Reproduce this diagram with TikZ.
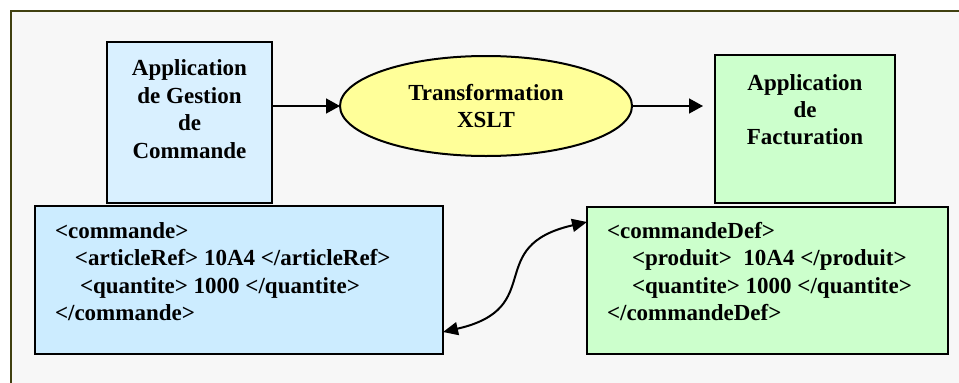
\documentclass[tikz,border=0pt]{standalone}
\usepackage{fontspec}
\setmainfont{Liberation Serif}
\usetikzlibrary{arrows.meta,shapes.geometric,calc}

\definecolor{framecol}{RGB}{64,64,16}
\definecolor{panelbg}{RGB}{247,247,247}
\definecolor{appblue}{RGB}{217,240,255}
\definecolor{xmlblue}{RGB}{204,236,255}
\definecolor{xsltyellow}{RGB}{255,255,153}
\definecolor{appgreen}{RGB}{204,255,204}

\tikzset{
  box/.style={draw=black, line width=2pt, rectangle, anchor=north west,
    inner sep=0pt, outer sep=0pt},
  label/.style={inner sep=0pt, outer sep=0pt,
    font=\fontsize{23}{27.3}\selectfont\bfseries},
  flow/.style={draw=black, line width=1.5pt,
    -{Triangle[length=14pt,width=15pt]}},
  link/.style={draw=black, line width=2pt,
    {Triangle[length=15pt,width=13pt]}-{Triangle[length=15pt,width=13pt]}}
}

\begin{document}
\begin{tikzpicture}[x=1pt,y=-1pt]
  \useasboundingbox (0,0) rectangle (959,383);
  \clip (0,0) rectangle (959,383);

  % outer panel
  \fill[white] (0,0) rectangle (959,383);
  \draw[framecol, line width=2.5pt, fill=panelbg] (11,11) rectangle (990,420);

  % application boxes
  \node[box, fill=appblue, minimum width=165pt, minimum height=161pt] (app1) at (107,42) {};
  \node[box, fill=appgreen, minimum width=180pt, minimum height=148pt] (fact) at (715,55) {};

  % XML documents
  \node[box, fill=xmlblue, minimum width=408pt, minimum height=148pt] (cmd) at (35,206) {};
  \node[box, fill=appgreen, minimum width=361pt, minimum height=147pt] (def) at (587,207) {};

  % transformation
  \node[ellipse, draw=black, line width=2pt, fill=xsltyellow,
        minimum width=292pt, minimum height=100pt, inner sep=0pt, outer sep=0pt,
        align=center, font=\fontsize{23}{27}\selectfont\bfseries]
        (xslt) at (486,106) {Transformation\\XSLT};

  % box captions
  \node[label, align=center, anchor=north, font=\fontsize{23}{27.6}\selectfont\bfseries]
    (app1txt) at (189.5,59.5) {Application\\de Gestion\\de\\Commande};
  \node[label, align=center, anchor=north, font=\fontsize{23}{27}\selectfont\bfseries]
    (facttxt) at (805,74.5) {Application\\de\\Facturation};

  \node[label, align=left, anchor=north west] (cmdtxt) at (55,222.5)
    {<commande>\\
     \hspace*{20pt}<articleRef> 10A4 </articleRef>\\
     \hspace*{25pt}<quantite> 1000 </quantite>\\
     </commande>};
  \node[label, align=left, anchor=north west] (deftxt) at (607,222.5)
    {<commandeDef>\\
     \hspace*{25pt}<produit>~~10A4 </produit>\\
     \hspace*{25pt}<quantite> 1000 </quantite>\\
     </commandeDef>};

  % connectors
  \draw[flow] (app1.east |- xslt.west) -- (xslt.west);
  \draw[flow, shorten >=12pt] (xslt.east) -- (xslt.east -| fact.west);
  \coordinate (cmdport) at ($(cmd.south east)+(0,-22)$);
  \coordinate (defport) at ($(def.north west)+(0,15)$);
  \draw[link] (cmdport) .. controls +(105,-24) and +(-105,24) .. (defport);
\end{tikzpicture}
\end{document}
